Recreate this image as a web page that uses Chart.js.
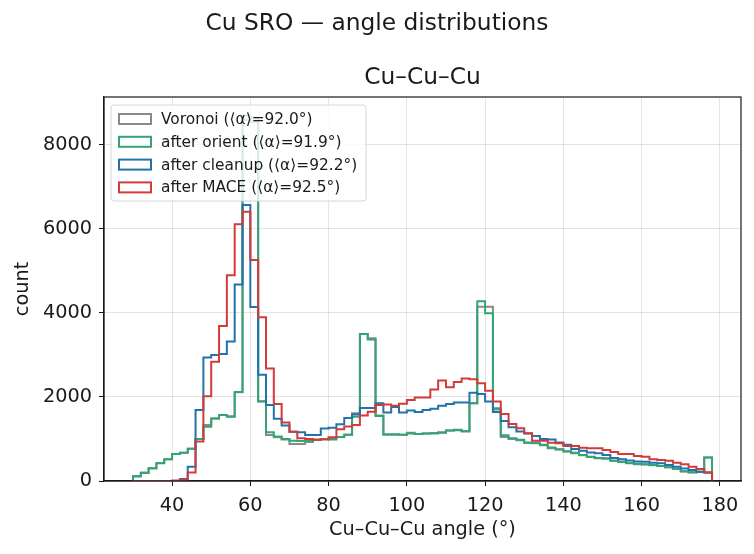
<!DOCTYPE html>
<html>
<head>
<meta charset="utf-8">
<script src="https://cdn.jsdelivr.net/npm/chart.js@4.4.1/dist/chart.umd.min.js"></script>
<style>
  html, body { margin: 0; padding: 0; background: #fff; }
  #wrap { width: 754px; height: 554px; }
</style>
</head>
<body>
<div id="wrap"><canvas id="angleChart" width="754" height="554"></canvas></div>
<script>
// bins are 2 degrees wide, 30..178
const binEdges = Array.from({ length: 75 }, (_, i) => 30 + 2 * i);
const xTicks = [40, 60, 80, 100, 120, 140, 160, 180];
const yTicks = [0, 2000, 4000, 6000, 8000];

const seriesLabels = [
    "Voronoi (\u27E8\u03B1\u27E9=92.0\u00B0)",
    "after orient (\u27E8\u03B1\u27E9=91.9\u00B0)",
    "after cleanup (\u27E8\u03B1\u27E9=92.2\u00B0)",
    "after MACE (\u27E8\u03B1\u27E9=92.5\u00B0)"
];
const seriesColors = ["#8a8a8a", "#34a474", "#2272ac", "#d43a3a"];

// counts per bin
const voronoi = [
    120, 200, 310, 430, 520, 640, 670, 770, 1000, 1330,
    1490, 1570, 1540, 2110, 8600, 8650, 1900, 1095, 1040, 990,
    880, 880, 930, 980, 1000, 1010, 1050, 1100, 1610, 3500,
    3400, 1560, 1100, 1100, 1100, 1150, 1120, 1130, 1140, 1160,
    1200, 1220, 1190, 1850, 4150, 4150, 1700, 1050, 1000, 970,
    905, 900, 850, 780, 750, 700, 660, 610, 570, 540,
    530, 480, 455, 425, 400, 395, 375, 355, 325, 285,
    225, 205, 215, 560
];
const orient = [
    110, 190, 300, 420, 520, 640, 670, 770, 1000, 1290,
    1490, 1570, 1530, 2120, 8700, 8550, 1890, 1160, 1060, 1000,
    960, 950, 960, 980, 1000, 990, 1050, 1100, 1530, 3500,
    3370, 1550, 1110, 1110, 1100, 1130, 1120, 1130, 1130, 1150,
    1200, 1210, 1180, 1850, 4280, 3990, 1730, 1090, 1020, 980,
    915, 910, 860, 800, 755, 710, 670, 620, 580, 545,
    540, 480, 460, 430, 410, 400, 380, 360, 330, 290,
    230, 210, 220, 560
];
const cleanup = [
    0, 0, 0, 0, 0, 0, 50, 340, 1690, 2940,
    3000, 3020, 3320, 4680, 6570, 4140, 2530, 1810, 1480, 1320,
    1170, 1160, 1095, 1095, 1250, 1270, 1350, 1500, 1580, 1740,
    1740, 1850, 1630, 1760, 1630, 1680, 1640, 1690, 1720, 1790,
    1830, 1870, 1870, 2100, 2070, 1890, 1640, 1430, 1280, 1180,
    1130, 1070, 1000, 990, 915, 860, 760, 720, 680, 660,
    620, 550, 520, 490, 465, 460, 436, 420, 380, 340,
    300, 262, 222, 198
];
const mace = [
    0, 0, 0, 0, 0, 10, 30, 200, 940, 2020,
    2840, 3690, 4900, 6110, 6410, 5260, 3900, 2680, 1830, 1390,
    1175, 1016, 1000, 980, 990, 1040, 1230, 1300, 1330, 1560,
    1650, 1810, 1820, 1790, 1840, 1930, 1985, 1985, 2180, 2390,
    2230, 2355, 2440, 2420, 2325, 2150, 1890, 1595, 1357, 1254,
    1135, 960, 960, 913, 897, 833, 833, 794, 778, 778,
    738, 690, 643, 643, 595, 579, 516, 500, 484, 437,
    397, 341, 286, 206
];

// matplotlib-style step outline: up from zero at the first edge, down to zero at the last
function stepPoints(counts) {
    const last = binEdges[binEdges.length - 1];
    const pts = [{ x: binEdges[0], y: 0 }];
    counts.forEach((c, i) => pts.push({ x: binEdges[i], y: c }));
    pts.push({ x: last, y: counts[counts.length - 1] });
    pts.push({ x: last, y: 0 });
    return pts;
}

const allSeries = [voronoi, orient, cleanup, mace];
const FONT = "'DejaVu Sans', sans-serif";
const INK = "#1a1a1a";

// frame, titles and an in-axes legend, drawn the matplotlib way
const figureDecor = {
    id: "figureDecor",
    afterDraw(chart) {
        const ctx = chart.ctx;
        const a = chart.chartArea;
        ctx.save();
        ctx.strokeStyle = INK;
        ctx.lineWidth = 1.2;
        ctx.strokeRect(a.left, a.top, a.right - a.left, a.bottom - a.top);

        ctx.fillStyle = INK;
        ctx.textAlign = "center";
        ctx.textBaseline = "middle";
        ctx.font = "23.3px " + FONT;
        ctx.fillText("Cu SRO \u2014 angle distributions", chart.width / 2, 24);
        ctx.fillText("Cu\u2013Cu\u2013Cu", (a.left + a.right) / 2, 78);

        // legend box
        const bx = a.left + 7, by = a.top + 8, bw = 255, bh = 96;
        ctx.beginPath();
        ctx.roundRect(bx, by, bw, bh, 3);
        ctx.fillStyle = "rgba(255,255,255,0.8)";
        ctx.fill();
        ctx.strokeStyle = "#d6d6d6";
        ctx.lineWidth = 1;
        ctx.stroke();

        ctx.font = "15.4px " + FONT;
        ctx.textAlign = "left";
        seriesLabels.forEach((lab, i) => {
            const cy = by + 14 + i * 22.8;
            ctx.strokeStyle = seriesColors[i];
            ctx.lineWidth = 2;
            ctx.strokeRect(bx + 8, cy - 5, 32, 10);
            ctx.fillStyle = INK;
            ctx.fillText(lab, bx + 50, cy + 1);
        });
        ctx.restore();
    }
};

new Chart(document.getElementById("angleChart"), {
    type: "line",
    data: {
        datasets: allSeries.map((counts, i) => ({
            label: seriesLabels[i],
            data: stepPoints(counts),
            borderColor: seriesColors[i],
            backgroundColor: seriesColors[i],
            borderWidth: 2,
            stepped: "before",   // hold each count across its bin, then step
            fill: false,
            pointRadius: 0,
            order: allSeries.length - i   // later series on top
        }))
    },
    options: {
        responsive: false,
        animation: false,
        layout: { padding: { top: 97, right: 13, left: 0, bottom: 0 } },
        plugins: { legend: { display: false }, tooltip: { enabled: false } },
        scales: {
            x: {
                type: "linear",
                min: 22.6,
                max: 185.4,
                afterBuildTicks: s => { s.ticks = xTicks.map(v => ({ value: v })); },
                afterFit: s => { s.height = 73; },
                grid: { color: "rgba(0,0,0,0.1)", tickLength: 5, tickColor: INK, tickWidth: 1 },
                border: { color: INK, width: 1.2 },
                ticks: { font: { family: FONT, size: 19.3 }, color: INK, padding: 8, maxRotation: 0 },
                title: { display: true, text: "Cu\u2013Cu\u2013Cu angle (\u00B0)", color: INK,
                         font: { family: FONT, size: 19.3 }, padding: { top: 0, bottom: 12 } }
            },
            y: {
                min: 0,
                max: 9140,
                afterBuildTicks: s => { s.ticks = yTicks.map(v => ({ value: v })); },
                afterFit: s => { s.width = 104; },
                grid: { color: "rgba(0,0,0,0.1)", tickLength: 5, tickColor: INK, tickWidth: 1 },
                border: { color: INK, width: 1.2 },
                ticks: { font: { family: FONT, size: 19.3 }, color: INK, padding: 7,
                         callback: v => String(v) },
                title: { display: true, text: "count", color: INK,
                         font: { family: FONT, size: 19.3 }, padding: { top: 11, bottom: 0 } }
            }
        }
    },
    plugins: [figureDecor]
});
</script>
</body>
</html>
